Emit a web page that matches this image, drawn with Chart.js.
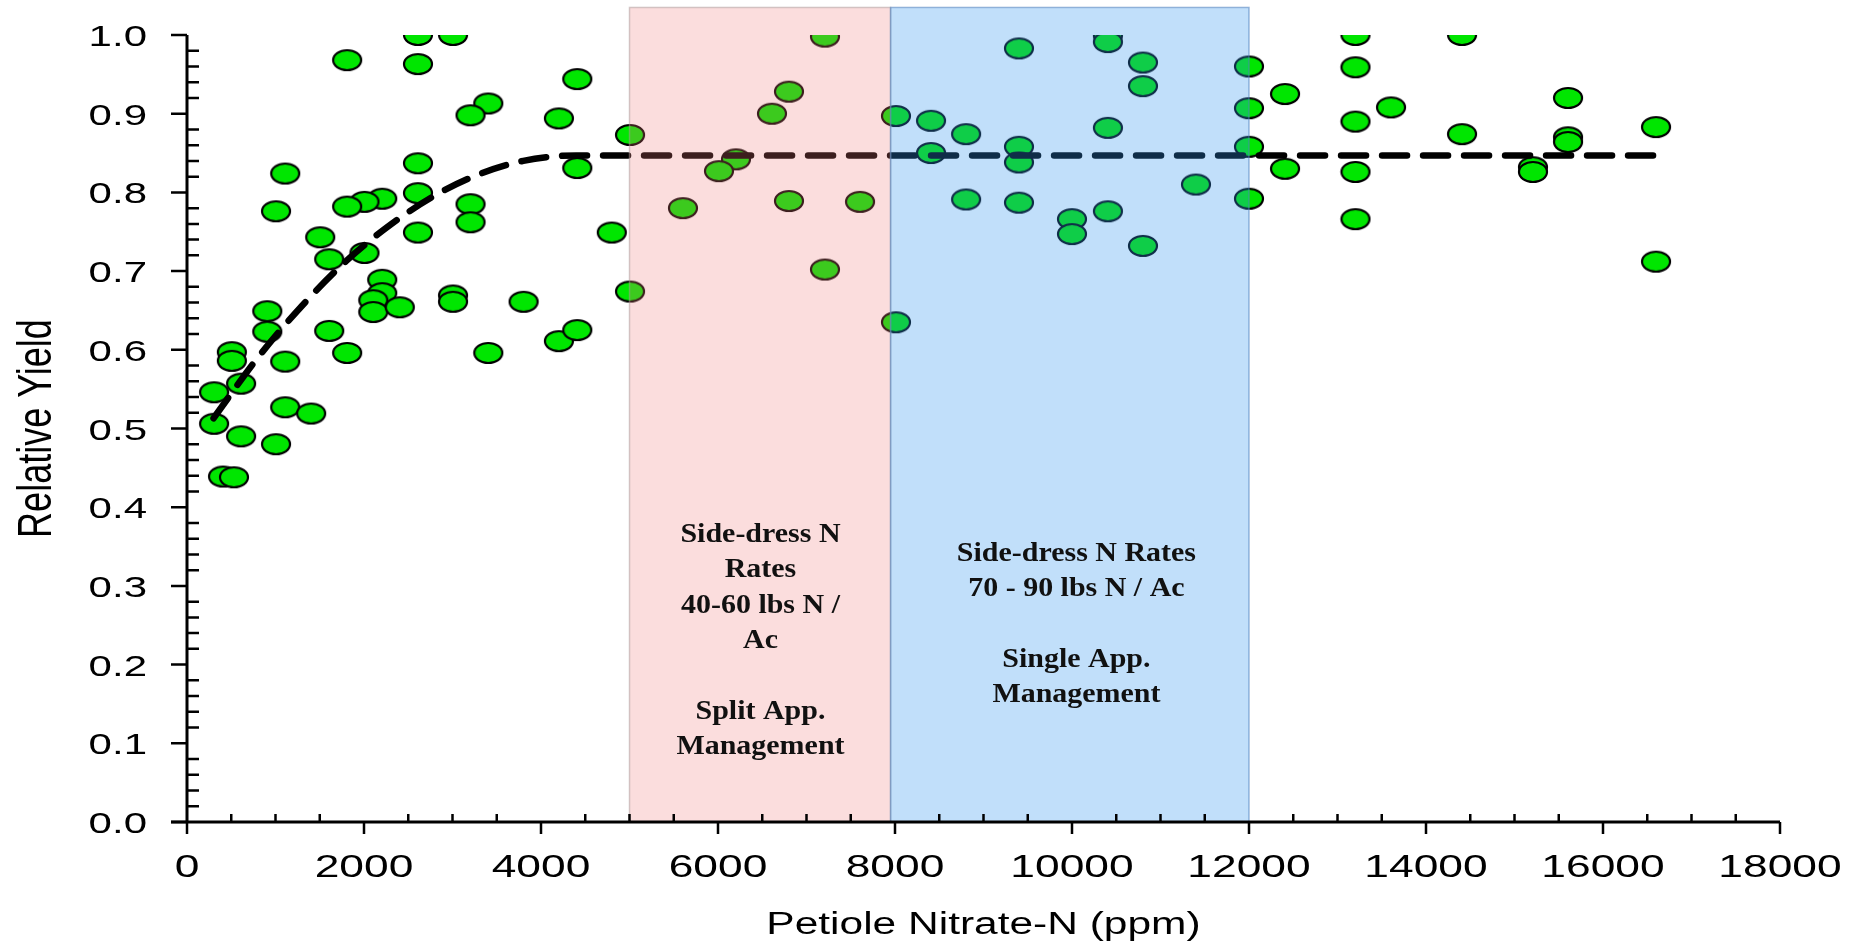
<!DOCTYPE html>
<html>
<head>
<meta charset="utf-8">
<script src="https://cdn.jsdelivr.net/npm/chart.js@4"></script>
<style>
  html, body { margin: 0; padding: 0; background: #fff; }
  #chart { display: block; }
</style>
</head>
<body>
<canvas id="chart" width="1850" height="942"></canvas>
<script>
// Scatter points: petiole nitrate-N (ppm) vs relative yield
let nitrateN = [
  2610, 3006, 1810, 2610, 4410, 3404, 3204, 4202, 5006, 2610, 4410, 1110, 2610, 2206, 2005, 1810, 3204, 1006,
  3204, 1505, 2610, 4800, 1607, 2005, 2206, 2206, 2105, 2105, 2404, 3006, 3006, 3803, 5006, 907, 907, 1607,
  1810, 3404, 4202, 4410, 507, 507, 1110, 611, 306, 306, 1110, 1403, 611, 1006, 407, 531,
  7209, 6802, 6610, 8011, 6203, 6011, 5604, 6802, 7605, 7209, 8011,
  8407, 8407, 8803, 8803, 9401, 9401, 9401, 9401, 10000, 10000, 10406, 10406, 10406, 10406, 10802, 10802, 10802,
  11401, 12000, 12000, 12000, 12000,
  12407, 12407, 13203, 13203, 13203, 13203, 13203, 13605, 14407, 14407, 15209, 15209, 15605, 15605, 15605, 16599, 16599
];
let relYield = [
  1.000, 1.000, 0.968, 0.963, 0.944, 0.913, 0.898, 0.894, 0.873, 0.837, 0.831, 0.824, 0.799, 0.792, 0.788, 0.782, 0.785, 0.776,
  0.762, 0.743, 0.749, 0.749, 0.715, 0.723, 0.689, 0.672, 0.663, 0.648, 0.654, 0.669, 0.661, 0.661, 0.674, 0.649, 0.623, 0.624,
  0.596, 0.596, 0.611, 0.625, 0.597, 0.586, 0.585, 0.557, 0.546, 0.506, 0.527, 0.519, 0.490, 0.480, 0.439, 0.438,
  0.998, 0.928, 0.900, 0.897, 0.842, 0.827, 0.780, 0.789, 0.788, 0.702, 0.635,
  0.891, 0.850, 0.874, 0.791, 0.983, 0.858, 0.838, 0.787, 0.766, 0.747, 0.999, 0.991, 0.882, 0.776, 0.965, 0.935, 0.732,
  0.810, 0.960, 0.907, 0.858, 0.792,
  0.925, 0.830, 1.000, 0.959, 0.890, 0.826, 0.766, 0.908, 1.000, 0.874, 0.832, 0.826, 0.920, 0.870, 0.864, 0.883, 0.712
];

// Quadratic-plateau trend line
let trendX = [300, 800, 1300, 1800, 2300, 2800, 3300, 3800, 4400, 16700];
let trendY = [0.513, 0.590, 0.656, 0.713, 0.759, 0.796, 0.823, 0.840, 0.847, 0.847];

// Shaded management zones (ppm) and their labels
let bandFrom = [5000, 7950];
let bandTo = [7950, 12000];
let bandTop = 1.035;
let bandLabelX = [6480, 10050];
let bandLabelY = [0.356, 0.332];
let bandLabels = [
  ['Side-dress N', 'Rates', '40-60 lbs N /', 'Ac', '', 'Split App.', 'Management'],
  ['Side-dress N Rates', '70 - 90 lbs N / Ac', '', 'Single App.', 'Management']
];

// axis ranges and titles
let xMin = 0, xMax = 18000, xStep = 2000, xMinor = 500;
let yMin = 0, yMax = 1.0, yStep = 0.1, yMinor = 0.02;
let xTitle = 'Petiole Nitrate-N (ppm)';
let yTitle = 'Relative Yield';

let points = nitrateN.map((v, i) => ({ x: v, y: relYield[i] }));
let trend = trendX.map((v, i) => ({ x: v, y: trendY[i] }));

// elliptical marker like the original plot
let marker = document.createElement('canvas');
marker.width = 32;
marker.height = 24;
let mctx = marker.getContext('2d');
mctx.beginPath();
mctx.ellipse(16, 12, 14, 10, 0, 0, Math.PI * 2);
mctx.fillStyle = '#00e600';
mctx.fill();
mctx.lineWidth = 2.2;
mctx.strokeStyle = '#000';
mctx.stroke();

let bandFill = ['rgba(240,120,120,0.25)', 'rgba(50,150,240,0.3)'];
let bandEdge = ['rgba(170,150,150,0.5)', 'rgba(80,130,190,0.55)'];
let sansFont = '"Liberation Sans", Arial, sans-serif';

// the original figure is stretched sideways, so text gets a horizontal scale
function wideText(ctx, text, x, y, sx, align) {
  ctx.save();
  ctx.translate(x, y);
  ctx.scale(sx, 1);
  ctx.textAlign = align;
  ctx.fillText(text, 0, 0);
  ctx.restore();
}

// bands are painted over the points, then axes, ticks and all text
let overlayPlugin = {
  id: 'overlay',
  afterDatasetsDraw(chart) {
    const { ctx, scales: { x, y } } = chart;
    ctx.save();
    const top = y.getPixelForValue(bandTop);
    const bottom = y.getPixelForValue(0);
    for (let i = 0; i < bandFrom.length; i++) {
      const l = x.getPixelForValue(bandFrom[i]);
      const r = x.getPixelForValue(bandTo[i]);
      ctx.fillStyle = bandFill[i];
      ctx.fillRect(l, top, r - l, bottom - top);
      ctx.strokeStyle = bandEdge[i];
      ctx.lineWidth = 1.5;
      ctx.strokeRect(l, top, r - l, bottom - top);
    }

    // axis lines
    const x0 = x.getPixelForValue(xMin);
    const x1 = x.getPixelForValue(xMax);
    const y0 = y.getPixelForValue(yMin);
    const y1 = y.getPixelForValue(yMax);
    ctx.strokeStyle = '#000';
    ctx.lineWidth = 3;
    ctx.beginPath();
    ctx.moveTo(x0 - 16, y0);
    ctx.lineTo(x1, y0);
    ctx.moveTo(x0, y0);
    ctx.lineTo(x0, y1);
    ctx.stroke();

    // y ticks: major outward, minor inward
    ctx.lineWidth = 2.5;
    ctx.beginPath();
    const nY = Math.round((yMax - yMin) / yMinor);
    const perY = Math.round(yStep / yMinor);
    for (let i = 0; i <= nY; i++) {
      const py = y.getPixelForValue(yMin + i * yMinor);
      if (i % perY === 0) {
        ctx.moveTo(x0 - 16, py);
        ctx.lineTo(x0, py);
      } else {
        ctx.moveTo(x0, py);
        ctx.lineTo(x0 + 12, py);
      }
    }
    // x ticks: major down, minor up
    const nX = Math.round((xMax - xMin) / xMinor);
    const perX = Math.round(xStep / xMinor);
    for (let i = 0; i <= nX; i++) {
      const px = x.getPixelForValue(xMin + i * xMinor);
      if (i % perX === 0) {
        ctx.moveTo(px, y0);
        ctx.lineTo(px, y0 + 12);
      } else {
        ctx.moveTo(px, y0);
        ctx.lineTo(px, y0 - 8);
      }
    }
    ctx.stroke();

    // tick labels from the scales' own ticks
    ctx.fillStyle = '#000';
    ctx.textBaseline = 'alphabetic';
    ctx.font = '31px ' + sansFont;
    x.ticks.forEach(t => {
      wideText(ctx, String(t.value), x.getPixelForValue(t.value), y0 + 55, 1.43, 'center');
    });
    ctx.font = '30px ' + sansFont;
    y.ticks.forEach(t => {
      wideText(ctx, t.value.toFixed(1), x0 - 40, y.getPixelForValue(t.value) + 11, 1.4, 'right');
    });

    // axis titles
    ctx.font = '31px ' + sansFont;
    wideText(ctx, xTitle, (x0 + x1) / 2, 934, 1.37, 'center');
    ctx.font = '36px ' + sansFont;
    ctx.save();
    ctx.translate(51, (y0 + y1) / 2);
    ctx.rotate(-Math.PI / 2);
    ctx.scale(1, 1.36);
    ctx.textAlign = 'center';
    ctx.fillText(yTitle, 0, 0);
    ctx.restore();

    // zone text
    ctx.fillStyle = '#111';
    ctx.font = 'bold 28px "Liberation Serif", "Times New Roman", serif';
    for (let i = 0; i < bandLabels.length; i++) {
      const cx = x.getPixelForValue(bandLabelX[i]);
      const cy = y.getPixelForValue(bandLabelY[i]);
      bandLabels[i].forEach((line, k) => {
        if (line) wideText(ctx, line, cx, cy + k * 35.4, 1.07, 'center');
      });
    }
    ctx.restore();
  }
};

let ctx = document.getElementById('chart').getContext('2d');
let myChart = new Chart(ctx, {
  type: 'scatter',
  data: {
    datasets: [
      {
        label: 'Fit',
        data: trend,
        showLine: true,
        borderColor: '#000',
        borderWidth: 6.5,
        borderDash: [25, 16],
        borderCapStyle: 'round',
        cubicInterpolationMode: 'monotone',
        pointRadius: 0,
        fill: false
      },
      {
        label: 'Relative Yield',
        data: points,
        pointStyle: marker,
        pointRadius: 12
      }
    ]
  },
  options: {
    responsive: false,
    animation: false,
    layout: { padding: { top: 35, right: 70, left: 0, bottom: 0 } },
    plugins: {
      legend: { display: false },
      tooltip: { enabled: false }
    },
    scales: {
      x: {
        type: 'linear',
        min: xMin,
        max: xMax,
        grid: { display: false, drawTicks: false },
        border: { display: false },
        ticks: { display: false, stepSize: xStep },
        title: { display: false, text: xTitle },
        afterFit(scale) {
          scale.height = 120;
          scale.paddingLeft = 0;
          scale.paddingRight = 0;
        }
      },
      y: {
        min: yMin,
        max: yMax,
        grid: { display: false, drawTicks: false },
        border: { display: false },
        ticks: { display: false, stepSize: yStep },
        title: { display: false, text: yTitle },
        afterFit(scale) {
          scale.width = 187;
          scale.paddingTop = 0;
          scale.paddingBottom = 0;
        }
      }
    }
  },
  plugins: [overlayPlugin]
});
</script>
</body>
</html>
